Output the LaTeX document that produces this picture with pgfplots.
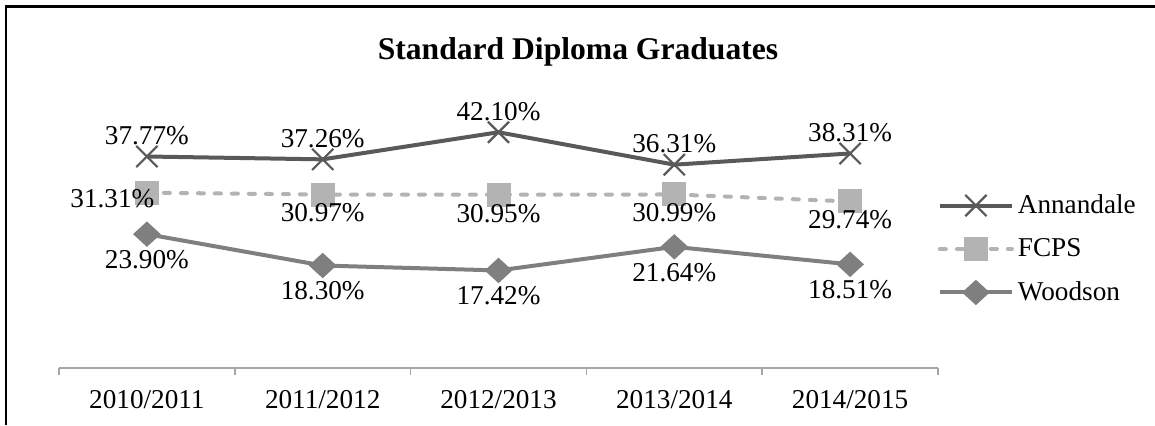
\documentclass[border=0pt]{standalone}
\usepackage{fontspec}
\setmainfont{Liberation Serif}
\usepackage{pgfplots}
\pgfplotsset{compat=1.18}
\definecolor{annan}{HTML}{595959}
\definecolor{fcps}{HTML}{B3B3B3}
\definecolor{woods}{HTML}{7F7F7F}
\definecolor{axgray}{HTML}{A6A6A6}
\newcommand{\lblfont}{\fontsize{13.6}{15}\selectfont}
\begin{document}
\begin{tikzpicture}
\useasboundingbox (0,0) rectangle (577.5pt,212.5pt);
\draw[line width=1.4pt,line join=miter] (3pt,0pt) -- (3pt,209.25pt) -- (577.5pt,209.25pt);
\node[anchor=base,font=\fontsize{15.8}{18}\selectfont\bfseries] at (289pt,183pt) {Standard Diploma Graduates};
\begin{axis}[
  at={(29.5pt,28.5pt)}, anchor=south west,
  width=439.5pt, height=140pt, scale only axis,
  xmin=-0.5, xmax=4.5, ymin=0, ymax=50,
  axis x line*=bottom, axis y line=none,
  axis line style={axgray,line width=0.75pt,-},
  xtick={0,1,2,3,4},
  xticklabels={2010/2011,2011/2012,2012/2013,2013/2014,2014/2015},
  major tick length=0pt,
  minor xtick={-0.5,0.5,1.5,2.5,3.5,4.5},
  minor tick length=3.5pt, tick align=outside,
  minor tick style={axgray,line width=0.75pt},
  xticklabel style={font=\lblfont,anchor=base,yshift=-20.25pt},
  clip=false,
  legend style={draw=none,fill=none,at={(0.9994,0.425)},anchor=west,
    font=\lblfont,row sep=7pt,inner sep=0pt},
  legend cell align=left,
  legend image code/.code={\draw[mark repeat=2,mark phase=2,#1] plot coordinates {(0pt,0pt) (18pt,0pt) (36pt,0pt)};},
  nodes near coords, point meta=explicit symbolic,
  every node near coord/.append style={font=\lblfont,text=black,anchor=center},
]
\addplot[annan,line width=2pt,mark=x,mark size=7.5pt,mark options={line width=1.1pt,solid},
  every node near coord/.append style={yshift=10.5pt}]
  coordinates {(0,37.77)[37.77\%] (1,37.26)[37.26\%] (2,42.10)[42.10\%] (3,36.31)[36.31\%] (4,38.31)[38.31\%]};
\addlegendentry{Annandale}
\addplot[fcps,line width=2pt,line cap=round,dash pattern=on 3pt off 5.5pt,mark=square*,mark size=5pt,mark options={solid},
  every node near coord/.append style={yshift=-9.25pt},
  coordinate style/.condition={x==0}{xshift=-17.25pt,yshift=6.25pt}]
  coordinates {(0,31.31)[31.31\%] (1,30.97)[30.97\%] (2,30.95)[30.95\%] (3,30.99)[30.99\%] (4,29.74)[29.74\%]};
\addlegendentry{FCPS}
\addplot[woods,line width=2pt,mark=diamond*,mark size=5pt,mark options={solid,xscale=1.45},
  every node near coord/.append style={yshift=-12.75pt}]
  coordinates {(0,23.90)[23.90\%] (1,18.30)[18.30\%] (2,17.42)[17.42\%] (3,21.64)[21.64\%] (4,18.51)[18.51\%]};
\addlegendentry{Woodson}
\end{axis}
\end{tikzpicture}
\end{document}
